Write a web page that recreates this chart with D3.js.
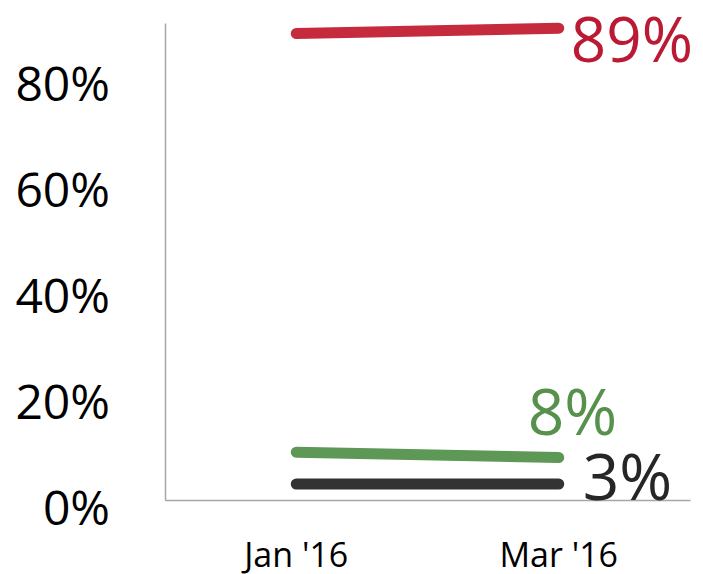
<!DOCTYPE html>
<html>
<head>
<meta charset="utf-8">
<script src="https://cdn.jsdelivr.net/npm/d3@7"></script>
<style>
  body { margin: 0; background: #fff; }
  text { font-family: "Open Sans", sans-serif; }
</style>
</head>
<body>
<div id="chart"></div>
<script>
// categories on the x axis
var months = ["Jan '16", "Mar '16"];

// series values (share of respondents)
var redValues = [0.88, 0.89];
var greenValues = [0.09, 0.08];
var blackValues = [0.03, 0.03];

// y tick values
var yTicks = [0, 0.2, 0.4, 0.6, 0.8];

// end labels
var endLabels = ["89%", "8%", "3%"];

var series = [
  { name: "red", values: redValues, color: "#c62a3d", label: endLabels[0], labelColor: "#bb1a34", size: 62, dx: 12, dy: 34 },
  { name: "green", values: greenValues, color: "#5e9857", label: endLabels[1], labelColor: "#57914c", size: 64, dx: -31, dy: -23 },
  { name: "black", values: blackValues, color: "#333333", label: endLabels[2], labelColor: "#262626", size: 64, dx: 24, dy: 16 }
];

var width = 703, height = 574;
// plot area (note: "top" is reserved on window, so use other names)
var plotLeft = 165, plotRight = 690, plotTop = 23, plotBottom = 500;

var svg = d3.select("#chart").append("svg")
  .attr("width", width).attr("height", height);

// scales
var x = d3.scaleBand().domain(months).range([plotLeft, plotRight]);
var y = d3.scaleLinear().domain([0, 0.9]).range([plotBottom, plotTop]);

// y axis
var yAxis = svg.append("g")
  .attr("transform", "translate(" + plotLeft + ",0)")
  .call(d3.axisLeft(y).tickValues(yTicks).tickSize(0).tickPadding(55).tickFormat(d3.format(".0%")));
yAxis.select(".domain").attr("stroke", "#a6a6a6").attr("stroke-width", 1.5);
yAxis.selectAll("text").attr("dy", "0.5em").attr("font-size", 48).attr("fill", "#000")
  .style("font-family", "'Open Sans', sans-serif");

// x axis
var xAxis = svg.append("g")
  .attr("transform", "translate(0," + plotBottom + ")")
  .call(d3.axisBottom(x).tickSize(0));
xAxis.select(".domain").attr("stroke", "#a6a6a6").attr("stroke-width", 1.5);
xAxis.selectAll("text").attr("y", 67).attr("dy", 0).attr("font-size", 34).attr("fill", "#000")
  .style("font-family", "'Open Sans', sans-serif");

// lines
var line = d3.line()
  .x(function(d, i) { return x(months[i]) + x.bandwidth() / 2; })
  .y(function(d) { return y(d); });

svg.selectAll("path.series").data(series).enter().append("path")
  .attr("class", "series")
  .attr("d", function(s) { return line(s.values); })
  .attr("fill", "none")
  .attr("stroke", function(s) { return s.color; })
  .attr("stroke-width", 11)
  .attr("stroke-linecap", "round");

// end labels
svg.selectAll("text.endlabel").data(series).enter().append("text")
  .attr("class", "endlabel")
  .attr("x", function(s) { return x(months[months.length - 1]) + x.bandwidth() / 2 + s.dx; })
  .attr("y", function(s) { return y(s.values[s.values.length - 1]) + s.dy; })
  .attr("font-size", function(s) { return s.size; })
  .attr("fill", function(s) { return s.labelColor; })
  .text(function(s) { return s.label; });
</script>
</body>
</html>
